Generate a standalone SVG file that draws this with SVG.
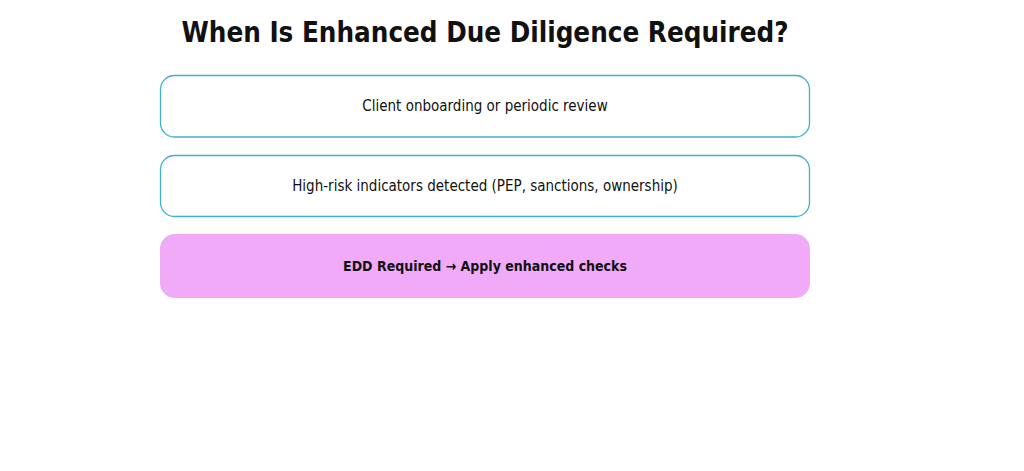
<svg xmlns="http://www.w3.org/2000/svg" width="1024" height="471" viewBox="0 0 1024 471">
<style>
.t{font-family:"DejaVu Sans Condensed","DejaVu Sans",sans-serif;fill:#111;text-anchor:middle}
.box{fill:#fff;stroke:#3fb1c8;stroke-width:1.3}
.edd{fill:#f0aaf8;stroke:#f0aaf8;stroke-width:1}
</style>
<rect width="1024" height="471" fill="#fff"/>
<text class="t" x="485" y="42" font-size="27.5" font-weight="bold">When Is Enhanced Due Diligence Required?</text>
<g id="node1">
<rect class="box" x="160.5" y="75.5" width="649" height="61.5" rx="14"/>
<text class="t" x="485" y="111" font-size="15">Client onboarding or periodic review</text>
</g>
<g id="node2">
<rect class="box" x="160.5" y="155.5" width="649" height="61" rx="14"/>
<text class="t" x="485" y="191" font-size="15">High-risk indicators detected (PEP, sanctions, ownership)</text>
</g>
<g id="node3">
<rect class="edd" x="160.5" y="234.5" width="649" height="63" rx="14"/>
<text class="t" x="485" y="271" font-size="14" font-weight="bold">EDD Required → Apply enhanced checks</text>
</g>
<g id="connectors"></g>
</svg>
